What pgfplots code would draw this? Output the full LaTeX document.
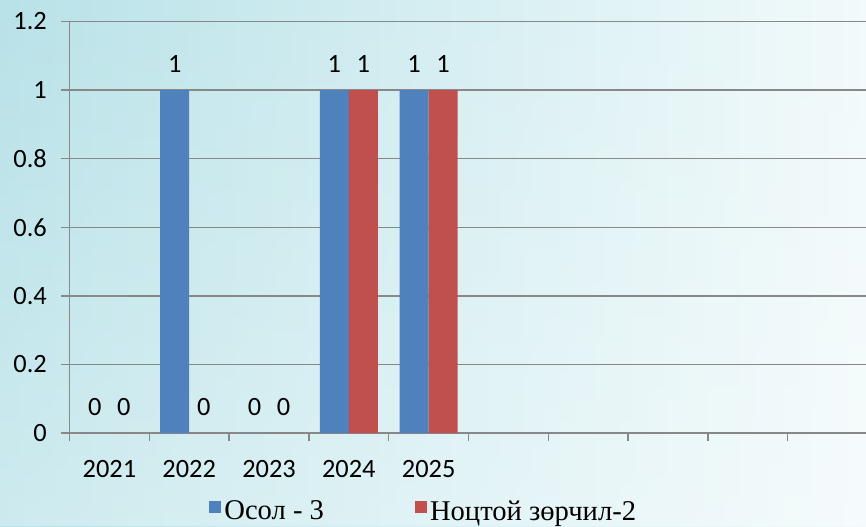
\documentclass[border=0pt]{standalone}
\usepackage{pgfplots}
\pgfplotsset{compat=1.18}
\usetikzlibrary{fadings}
\usepackage{fontspec}
\setmainfont{Carlito}
\newfontfamily\legfont{Liberation Serif}
\definecolor{barblue}{RGB}{79,129,189}
\definecolor{barred}{RGB}{192,80,77}
\definecolor{gridgray}{RGB}{136,136,136}
\definecolor{bgleft}{RGB}{184,226,232}
\definecolor{bgright}{RGB}{242,250,251}

\pgfplotstableread{
x osol noctoi
0 0 0
1 1 0
2 0 0
3 1 1
4 1 1
}\zorchil

\begin{document}
\begin{tikzpicture}
\path[use as bounding box, clip] (0,0) rectangle (433pt,263pt);
\shade[left color=bgleft, right color=bgright] (0,0) rectangle (433pt,263pt);
\fill[white, opacity=0.3, path fading=north] (0,0) rectangle (433pt,263pt);
\begin{axis}[
    at={(34.75pt,46.5pt)}, anchor=south west,
    scale only axis, width=398.25pt, height=205.8pt,
    ybar=0pt, bar width=14.5pt,
    xmin=-0.5, xmax=9.48,
    ymin=0, ymax=1.2,
    ytick={0,0.2,...,1.2},
    xtick={0,...,4},
    xticklabels={2021,2022,2023,2024,2025},
    minor xtick={-0.5,0.5,...,8.5},
    axis x line=bottom, axis y line=left,
    axis line style={-, draw=gridgray, line width=0.7pt},
    tick align=outside,
    major tick length=4pt, minor tick length=4pt,
    x tick style={draw=none},
    minor x tick style={draw=gridgray, line width=0.7pt},
    y tick style={draw=gridgray, line width=0.7pt},
    ymajorgrids, grid style={draw=gridgray, line width=0.7pt},
    /pgf/number format/assume math mode=true,
    ticklabel style={font=\fontsize{13.2}{15}\selectfont, text=black},
    xticklabel style={anchor=base, yshift=-18pt},
    yticklabel style={xshift=-3.8pt},
    nodes near coords,
    nodes near coords style={font=\fontsize{13.2}{15}\selectfont, text=black},
    every node near coord/.append style={anchor=base, inner sep=0pt, yshift=9pt},
    legend columns=2,
    legend style={at={(0.1751,-0.1919)}, anchor=west, draw=none, fill=none,
        font=\legfont\fontsize{14.3}{16}\selectfont, inner sep=0pt,
        nodes={inner xsep=1.5pt},
        /tikz/every even column/.append style={column sep=44pt}},
    legend image code/.code={\fill[#1] (0pt,-0.5pt) rectangle (6pt,5.5pt);},
]
\addplot[fill=barblue, draw=none] table[x=x, y=osol] {\zorchil};
\addplot[fill=barred, draw=none] table[x=x, y=noctoi] {\zorchil};
\legend{Осол - 3, Ноцтой зөрчил-2}
\end{axis}
\end{tikzpicture}
\end{document}
